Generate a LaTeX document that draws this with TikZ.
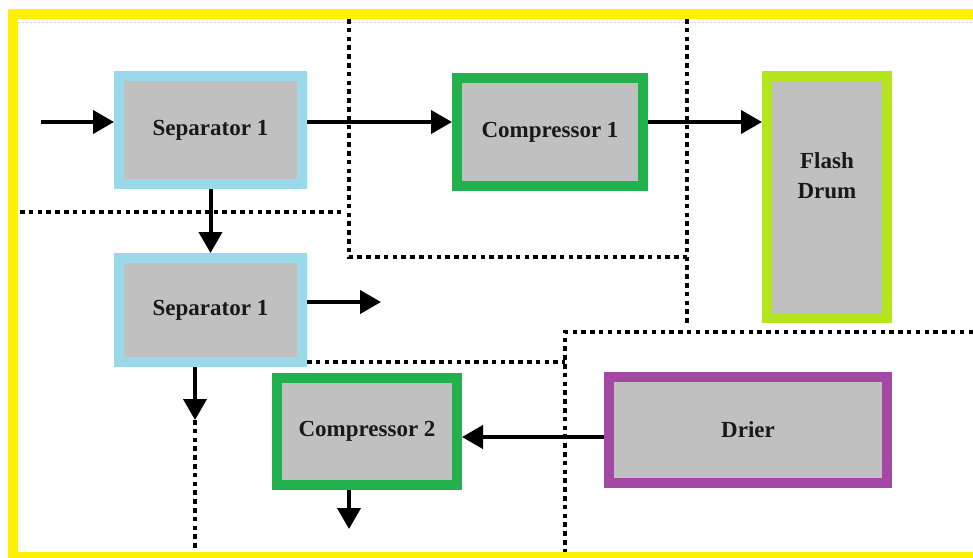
\documentclass[tikz,border=0pt]{standalone}
\usepackage{fontspec}
\setmainfont{Liberation Serif}
\usetikzlibrary{arrows.meta}
\definecolor{frameyellow}{RGB}{255,242,0}
\definecolor{sepblue}{RGB}{153,217,234}
\definecolor{compgreen}{RGB}{34,177,76}
\definecolor{drumlime}{RGB}{181,230,29}
\definecolor{drierpurple}{RGB}{163,73,164}
\definecolor{unitgray}{RGB}{192,192,192}
\tikzset{
  unit/.style={draw=#1, fill=unitgray, line width=10pt, inner sep=0pt,
    font=\fontsize{23}{30}\selectfont\bfseries, text=black!90, align=center},
  flow/.style={line width=4pt, -{Triangle[length=21pt,width=23pt]}},
  zone/.style={line width=3.6pt, dash pattern=on 4.5pt off 4.3pt},
}
\begin{document}
\begin{tikzpicture}[x=1pt,y=-1pt]
\useasboundingbox (0,0) rectangle (973,557);
\fill[white] (0,0) rectangle (973,557);

% faint ruling just inside the frame
\draw[gray!35, line width=1pt, dash pattern=on 2pt off 2pt] (18,22) -- (973,22);

% zone boundaries
\draw[zone] (349,19) -- (349,257) -- (687,257);
\draw[zone] (687,19) -- (687,323);
\draw[zone] (973,332) -- (565,332) -- (565,552);
\draw[zone] (20,212) -- (345,212);
\draw[zone] (307,362) -- (565,362);
\draw[zone] (195,420) -- (195,552);

% process units
\node[unit=sepblue, minimum width=183pt, minimum height=108pt] (sep1) at (210.5,130) {Separator 1};
\node[unit=sepblue, minimum width=183pt, minimum height=104pt] (sep2) at (210.5,310) {Separator 1};
\node[unit=compgreen, minimum width=186pt, minimum height=108pt] (comp1) at (550,132) {Compressor 1};
\node[unit=drumlime, minimum width=120pt, minimum height=242pt] (drum) at (827,197) {};
\node[font=\fontsize{23}{30}\selectfont\bfseries, text=black!90, align=center] (drumlabel) at (827,176) {Flash\\Drum};
\node[unit=compgreen, minimum width=180pt, minimum height=107pt] (comp2) at (367,431.5) {Compressor 2};
\node[unit=drierpurple, minimum width=278pt, minimum height=106pt] (drier) at (748,430) {Drier};

% free stream ends
\coordinate (feed) at (41,122);
\coordinate (sep2out) at (381,302);
\coordinate (sep2bot) at (195,420);
\coordinate (comp2bot) at (349,529);

% streams
\draw[flow] (feed) -- (feed -| sep1.west);
\draw[flow] ([yshift=8pt]sep1.east) coordinate (s1e) -- (s1e -| comp1.west);
\draw[flow] ([yshift=10pt]comp1.east) coordinate (c1e) -- (c1e -| drum.west);
\draw[flow] (sep1.south) -- (sep2.north);
\draw[flow] ([yshift=8pt]sep2.east) -- (sep2out);
\draw[flow] (sep2.south -| sep2bot) -- (sep2bot);
\draw[flow] (comp2.south -| comp2bot) -- (comp2bot);
\draw[flow] ([yshift=-7pt]drier.west) coordinate (dw) -- (dw -| comp2.east);

% outer frame
\draw[frameyellow, line width=10pt] (13,14) rectangle (978,557);
\end{tikzpicture}
\end{document}
